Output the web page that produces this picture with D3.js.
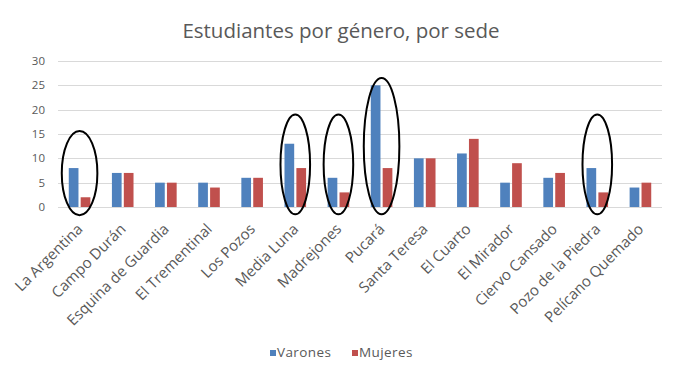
<!DOCTYPE html>
<html>
<head>
<meta charset="utf-8">
<script src="https://cdn.jsdelivr.net/npm/d3@7"></script>
<style>
  body { margin: 0; background: #fff; }
  text { font-family: "Open Sans", sans-serif; fill: #595959; }
</style>
</head>
<body>
<div id="chart"></div>
<script>
'use strict';

let width = 683;
let height = 368;
let margin = { top: 61, bottom: 161, left: 58, right: 21 };

// data
const sedes = ["La Argentina", "Campo Durán", "Esquina de Guardia", "El Trementinal", "Los Pozos",
    "Media Luna", "Madrejones", "Pucará", "Santa Teresa", "El Cuarto", "El Mirador",
    "Ciervo Cansado", "Pozo de la Piedra", "Pelícano Quemado"];
const series = ["Varones", "Mujeres"];
const varones = [8, 7, 5, 5, 6, 13, 6, 25, 10, 11, 5, 6, 8, 4];
const mujeres = [2, 7, 5, 4, 6, 8, 3, 8, 10, 14, 9, 7, 3, 5];
const yTicks = [0, 5, 10, 15, 20, 25, 30];
// hand drawn circles: sede, low/high in value units
const circled = ["La Argentina", "Media Luna", "Madrejones", "Pucará", "Pozo de la Piedra"];
const circleLow = [-1.7, -1.5, -1.5, -1.5, -1.5];
const circleHigh = [15.6, 19, 19, 26.5, 19];

const colors = ["#4F81BD", "#C0504D"];

const svg = d3.select("#chart")
    .append("svg")
    .attr("width", width)
    .attr("height", height);

const x = d3.scaleBand()
    .domain(sedes)
    .range([margin.left, width - margin.right]);

const y = d3.scaleLinear()
    .domain([0, 30])
    .range([height - margin.bottom, margin.top]);

// title
svg.append("text")
    .attr("x", 341)
    .attr("y", 38)
    .attr("text-anchor", "middle")
    .style("font-size", "20.5px")
    .text("Estudiantes por género, por sede");

// gridlines
svg.append("g")
    .selectAll("line")
    .data(yTicks)
    .join("line")
    .attr("x1", margin.left)
    .attr("x2", width - margin.right)
    .attr("y1", d => Math.round(y(d)) + 0.5)
    .attr("y2", d => Math.round(y(d)) + 0.5)
    .attr("stroke", "#D9D9D9")
    .attr("stroke-width", 1);

// y labels
svg.append("g")
    .selectAll("text")
    .data(yTicks)
    .join("text")
    .attr("x", 45)
    .attr("y", d => y(d))
    .attr("dy", "0.35em")
    .attr("text-anchor", "end")
    .style("font-size", "11.5px")
    .text(d => d);

// bars
const rows = sedes.map((s, i) => ({ sede: s, values: [varones[i], mujeres[i]] }));
const barW = 9.7;
const gap = 2.2;

const groups = svg.append("g")
    .selectAll("g")
    .data(rows)
    .join("g")
    .attr("transform", d => `translate(${x(d.sede) + x.bandwidth() / 2},0)`);

groups.selectAll("rect")
    .data(d => d.values)
    .join("rect")
    .attr("x", (d, i) => i === 0 ? -barW - gap / 2 : gap / 2)
    .attr("width", barW)
    .attr("y", d => y(d))
    .attr("height", d => y(0) - y(d))
    .attr("fill", (d, i) => colors[i]);

// x labels
svg.append("g")
    .selectAll("text")
    .data(sedes)
    .join("text")
    .attr("text-anchor", "end")
    .attr("transform", d => `translate(${x(d) + x.bandwidth() / 2 + 4},${y(0) + 23}) rotate(-45)`)
    .style("font-size", "15px")
    .text(d => d);

// ellipses
svg.append("g")
    .selectAll("ellipse")
    .data(circled)
    .join("ellipse")
    .attr("cx", d => x(d) + x.bandwidth() / 2)
    .attr("cy", (d, i) => (y(circleLow[i]) + y(circleHigh[i])) / 2)
    .attr("rx", d => d === "La Argentina" || d === "Pucará" ? 17.8 : 14.8)
    .attr("ry", (d, i) => (y(circleLow[i]) - y(circleHigh[i])) / 2)
    .attr("fill", "none")
    .attr("stroke", "#000")
    .attr("stroke-width", 2);

// legend
const legend = svg.append("g")
    .selectAll("g")
    .data(series)
    .join("g")
    .attr("transform", (d, i) => `translate(${270 + i * 82},350)`);

legend.append("rect")
    .attr("width", 6)
    .attr("height", 6)
    .attr("y", 0)
    .attr("fill", (d, i) => colors[i]);

legend.append("text")
    .attr("x", 7)
    .attr("y", 7)
    .style("font-size", "13.5px")
    .style("letter-spacing", "0.4px")
    .text(d => d);
</script>
</body>
</html>
